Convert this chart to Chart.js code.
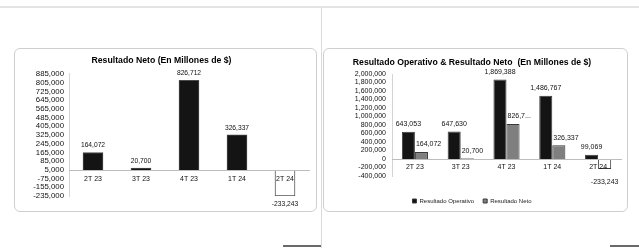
<!DOCTYPE html>
<html>
<head>
<meta charset="utf-8">
<script src="https://cdn.jsdelivr.net/npm/chart.js@4"></script>
<style>
  html, body { margin: 0; padding: 0; background: #fff; }
  body { width: 639px; height: 248px; position: relative; overflow: hidden; }
  .line { position: absolute; background: #e3e3e3; }
  .box { position: absolute; border: 1px solid #cfcfcf; border-radius: 6px; box-sizing: border-box; }
  canvas { position: absolute; }
</style>
</head>
<body>
<div class="line" style="left:0;top:6px;width:639px;height:2px"></div>
<div class="line" style="left:321px;top:8px;width:1px;height:240px;background:#dadada"></div>
<div class="line" style="left:283px;top:245px;width:38px;height:2px;background:#6a6a6a"></div>
<div class="line" style="left:610px;top:245px;width:29px;height:2px;background:#6a6a6a"></div>

<div class="box" style="left:14px;top:48px;width:303px;height:164px"></div>
<div class="box" style="left:323px;top:48px;width:305px;height:164px"></div>
<canvas id="netoChart" width="303" height="164" style="left:14px;top:48px"></canvas>
<canvas id="compChart" width="305" height="168" style="left:323px;top:48px"></canvas>

<script>
// ===== DATA =====
const quarters = ['2T 23', '3T 23', '4T 23', '1T 24', '2T 24'];
const resultadoNeto = [164072, 20700, 826712, 326337, -233243];
const resultadoOperativo = [643053, 647630, 1869388, 1486767, 99069];
// Excel cut one label short in the second chart
const netoLabelsComp = [null, null, '826,7...', null, null];

const netoTicks = { min: -235000, max: 885000, step: 80000 };
const compTicks = { min: -400000, max: 2000000, step: 200000 };

const FONT = "'Liberation Sans', Arial, sans-serif";
const fmt = v => Number(v).toLocaleString('en-US');

// value labels above (or below, for negatives) each bar
const valueLabels = {
    id: 'valueLabels',
    afterDatasetsDraw(chart, args, opts) {
        const ctx = chart.ctx;
        ctx.save();
        ctx.font = `${opts.size}px ${FONT}`;
        ctx.fillStyle = '#111';
        ctx.textBaseline = 'middle';
        chart.data.datasets.forEach((ds, i) => {
            const meta = chart.getDatasetMeta(i);
            meta.data.forEach((bar, j) => {
                const v = ds.data[j];
                const txt = (ds.labelText && ds.labelText[j]) || fmt(v);
                const y = v < 0 ? bar.y + opts.below : bar.y - opts.above;
                if (ds.labelAlign === 'left' && v >= 0) {
                    ctx.textAlign = 'left';
                    ctx.fillText(txt, bar.x - bar.width / 2 + 1, y);
                } else {
                    ctx.textAlign = 'center';
                    ctx.fillText(txt, bar.x, y);
                }
            });
        });
        ctx.restore();
    }
};

function yAxis(t, size, width, pad) {
    return {
        min: t.min, max: t.max,
        ticks: {
            stepSize: t.step, maxTicksLimit: 30, autoSkip: false, padding: pad,
            color: '#111', font: { family: FONT, size: size, lineHeight: 1 },
            callback: v => fmt(v)
        },
        grid: { display: false, drawTicks: false },
        border: { color: '#d4d4d4' },
        afterFit: s => { s.width = width; }
    };
}

function xAxis(size, pad) {
    return {
        position: { y: 0 },
        ticks: { z: 2, color: '#111', padding: pad, font: { family: FONT, size: size } },
        grid: { display: false, drawTicks: false },
        border: { z: 1, color: '#bdbdbd' },
        afterFit: s => { s.height = 0; }
    };
}

// ---- Resultado Neto ----
new Chart(document.getElementById('netoChart'), {
    type: 'bar',
    data: {
        labels: quarters,
        datasets: [{
            label: 'Resultado Neto',
            data: resultadoNeto,
            backgroundColor: c => c.raw < 0 ? '#fff' : '#141414',
            borderColor: c => c.raw < 0 ? '#555' : '#4a4a4a',
            borderWidth: 1,
            barThickness: 20
        }]
    },
    options: {
        responsive: false, animation: false,
        layout: { padding: { left: 0, right: 8, top: 0, bottom: 16 } },
        plugins: {
            title: {
                display: true, text: 'Resultado Neto (En Millones de $)', color: '#000',
                font: { family: FONT, size: 8.7, weight: 'bold' },
                padding: { top: 7, bottom: 8.5 }
            },
            legend: { display: false },
            tooltip: { enabled: false },
            valueLabels: { size: 6.7, above: 7, below: 8 }
        },
        scales: { x: xAxis(7, 4), y: yAxis(netoTicks, 7.8, 55, 5) }
    },
    plugins: [valueLabels]
});

// ---- Resultado Operativo & Resultado Neto ----
new Chart(document.getElementById('compChart'), {
    type: 'bar',
    data: {
        labels: quarters,
        datasets: [{
            label: 'Resultado Operativo',
            data: resultadoOperativo,
            backgroundColor: '#141414',
            borderColor: '#3a3a3a',
            borderWidth: 1,
            barPercentage: 1, categoryPercentage: 0.57
        }, {
            label: 'Resultado Neto',
            data: resultadoNeto,
            labelText: netoLabelsComp,
            labelAlign: 'left',
            backgroundColor: c => c.raw < 0 ? '#fff' : '#7f7f7f',
            borderColor: '#3a3a3a',
            borderWidth: 1,
            barPercentage: 1, categoryPercentage: 0.57
        }]
    },
    options: {
        responsive: false, animation: false,
        layout: { padding: { left: 0, right: 7, top: 0, bottom: 2 } },
        plugins: {
            title: {
                display: true, text: 'Resultado Operativo & Resultado Neto  (En Millones de $)', color: '#000',
                font: { family: FONT, size: 8.7, weight: 'bold' },
                padding: { top: 9.8, bottom: 5.8 }
            },
            legend: {
                position: 'bottom',
                title: { display: true, text: '', font: { size: 1 }, padding: { top: 11.8, bottom: 0 } },
                labels: {
                    color: '#222', boxWidth: 4, boxHeight: 4, padding: 9,
                    font: { family: FONT, size: 6 }
                }
            },
            tooltip: { enabled: false },
            valueLabels: { size: 7, above: 7.5, below: 13 }
        },
        scales: { x: xAxis(7, 4), y: yAxis(compTicks, 7, 69, 6) }
    },
    plugins: [valueLabels]
});
</script>
</body>
</html>
